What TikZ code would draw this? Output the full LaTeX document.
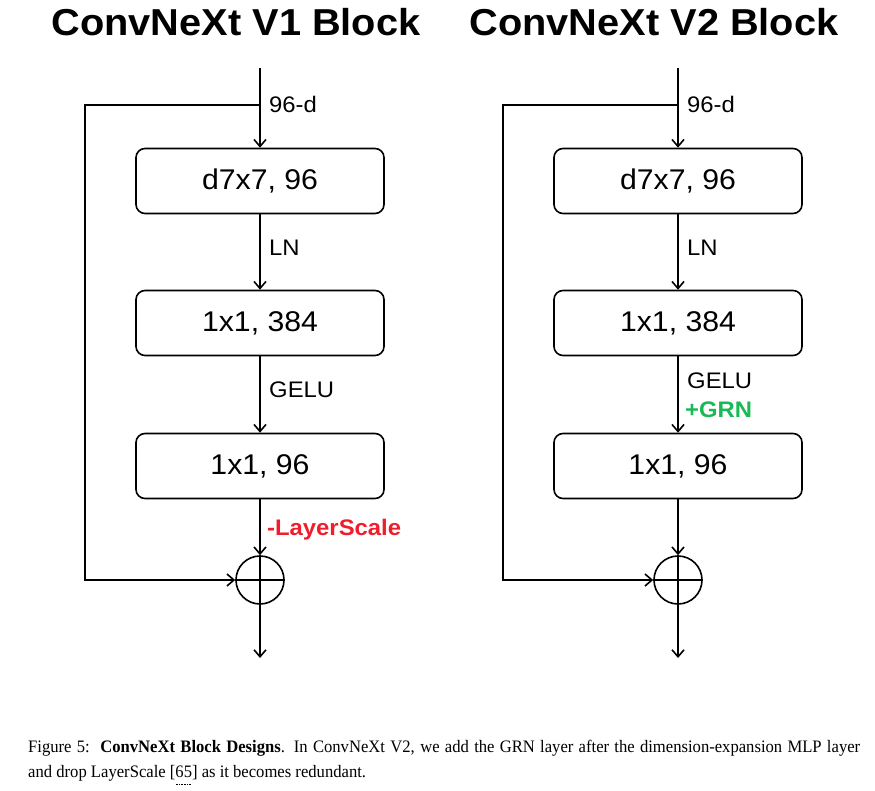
\documentclass[tikz,border=0pt]{standalone}
\usepackage{fontspec}
\setmainfont{Liberation Serif}[FakeStretch=0.95]
\setsansfont{Liberation Sans}[FakeStretch=1.06]
\usetikzlibrary{arrows.meta}
\definecolor{lsred}{RGB}{240,30,45}
\definecolor{grngreen}{RGB}{25,185,85}
\newcommand{\dotref}[1]{\setbox0\hbox{#1}\rlap{\raisebox{-7pt}{\hbox to \wd0{\leaders\hbox to 1.6pt{\hss\rule{0.7pt}{0.7pt}\hss}\hfill}}}#1}
\tikzset{
  blk/.style={draw, line width=1.6pt, rounded corners=9pt, minimum width=248pt,
    minimum height=65pt, inner sep=0pt, font=\sffamily\fontsize{28.5}{30}\selectfont},
  lbl/.style={anchor=west, inner sep=0pt, font=\sffamily\fontsize{22.5}{24}\selectfont},
  flow/.style={line width=1.6pt, -{Straight Barb[length=7pt,width=12pt]}},
  addc/.style={draw, circle, line width=1.6pt, minimum size=48pt, inner sep=0pt},
  ttl/.style={inner sep=0pt, font=\sffamily\bfseries\fontsize{37.5}{40}\selectfont},
}
\begin{document}
\begin{tikzpicture}[x=1pt,y=-1pt]
\useasboundingbox (0,0) rectangle (875,791);
\node[ttl] (t-a) at (236,22) {ConvNeXt V1 Block};
\node[ttl] (t-b) at (654,22) {ConvNeXt V2 Block};
\foreach \c/\x in {a/260,b/678}{
  \coordinate (\c-top) at (\x,68);
  \coordinate (\c-split) at (\x,105);
  \coordinate (\c-skip) at (\x-175,105);
  \coordinate (\c-out) at (\x,658);
  \node[blk] (\c-dw) at (\x,181) {d7x7, 96};
  \node[blk] (\c-pw1) at (\x,323) {1x1, 384};
  \node[blk] (\c-pw2) at (\x,466) {1x1, 96};
  \node[addc] (\c-add) at (\x,580) {};
  \draw[line width=1.6pt] (\c-add.north) -- (\c-add.south) (\c-add.west) -- (\c-add.east);
  \draw[line width=1.6pt] (\c-top) -- (\c-split);
  \draw[flow] (\c-split) -- (\c-dw);
  \draw[flow] (\c-dw) -- (\c-pw1);
  \draw[flow] (\c-pw1) -- (\c-pw2);
  \draw[flow] (\c-pw2) -- (\c-add);
  \draw[flow] (\c-split) -- (\c-skip) |- (\c-add);
  \draw[flow] (\c-add) -- (\c-out);
  \node[lbl] (\c-dim) at (\x+9,104) {96-d};
  \node[lbl] (\c-ln) at (\x+9,248) {LN};
}
\node[lbl] (a-gelu) at (269,390) {GELU};
\node[lbl] (b-gelu) at (687,381) {GELU};
\node[lbl, text=lsred, font=\sffamily\bfseries\fontsize{22.5}{24}\selectfont] (a-ls) at (267,530) {-LayerScale};
\node[lbl, text=grngreen, font=\sffamily\bfseries\fontsize{22.5}{24}\selectfont] (b-grn) at (685,410) {+GRN};
% caption
\node[anchor=north west, inner sep=0pt, text width=832pt, align=justify,
  font=\fontsize{17.5}{25}\selectfont] (cap) at (28,740)
  {Figure 5:\ \ \textbf{ConvNeXt Block Designs}. In ConvNeXt V2, we add the GRN layer after the dimension-expansion MLP layer\linebreak
   and drop LayerScale [\dotref{65}] as it becomes redundant.};
\end{tikzpicture}
\end{document}
